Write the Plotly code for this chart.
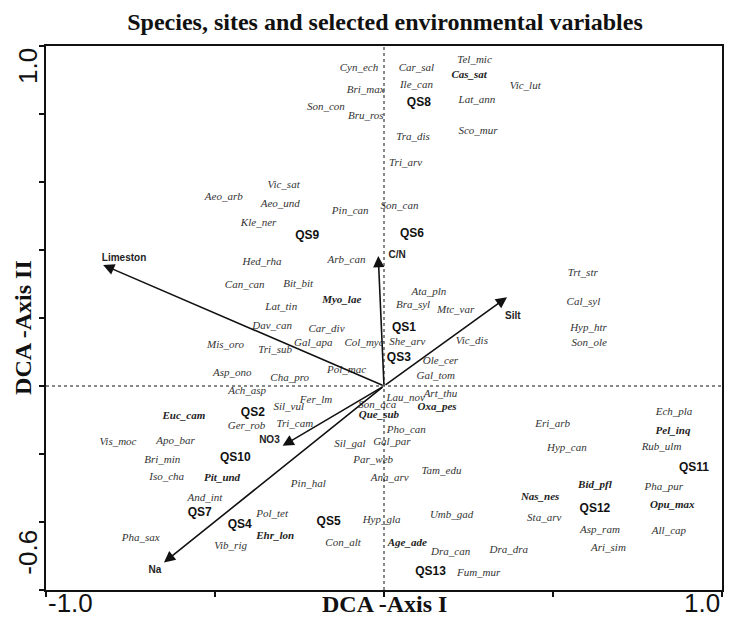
import plotly.graph_objects as go

# ---------------- data (DCA scores) ----------------
species = ["Cyn_ech", "Car_sal", "Tel_mic", "Vic_lut", "Bri_max", "Ile_can", "Son_con",
           "Lat_ann", "Bru_ros", "Tra_dis", "Sco_mur", "Tri_arv", "Son_can", "Pin_can",
           "Vic_sat", "Aeo_arb", "Aeo_und", "Kle_ner", "Hed_rha", "Can_can", "Bit_bit",
           "Lat_tin", "Dav_can", "Mis_oro", "Tri_sub", "Asp_ono", "Cha_pro", "Ach_asp",
           "Arb_can", "Ata_pln", "Bra_syl", "Mtc_var", "Car_div", "Gal_apa", "Col_myc",
           "She_arv", "Vic_dis", "Ole_cer", "Pol_mac", "Gal_tom", "Lau_nov", "Art_thu",
           "Fer_lm", "Son_aca", "Sil_vul", "Tri_cam", "Trt_str", "Cal_syl", "Hyp_htr",
           "Son_ole", "Ger_rob", "Vis_moc", "Apo_bar", "Bri_min", "Iso_cha", "Pin_hal",
           "And_int", "Pol_tet", "Pha_sax", "Vib_rig", "Pho_can", "Sil_gal", "Gal_par",
           "Par_web", "Tam_edu", "Ana_arv", "Hyp_gla", "Umb_gad", "Con_alt", "Dra_can",
           "Dra_dra", "Fum_mur", "Ech_pla", "Eri_arb", "Hyp_can", "Rub_ulm", "Pha_pur",
           "Sta_arv", "Asp_ram", "All_cap", "Ari_sim"]
sp_x = [-0.074, 0.096, 0.268, 0.418, -0.054, 0.096, -0.172,
        0.275, -0.054, 0.086, 0.278, 0.064, 0.046, -0.100,
        -0.297, -0.474, -0.307, -0.371, -0.361, -0.412, -0.254,
        -0.304, -0.331, -0.469, -0.322, -0.449, -0.279, -0.405,
        -0.111, 0.133, 0.086, 0.212, -0.170, -0.209, -0.059,
        0.069, 0.260, 0.167, -0.111, 0.153, 0.064, 0.167,
        -0.201, -0.020, -0.282, -0.264, 0.588, 0.590, 0.605,
        0.607, -0.407, -0.787, -0.617, -0.656, -0.643, -0.224,
        -0.530, -0.331, -0.720, -0.454, 0.066, -0.101, 0.023,
        -0.032, 0.170, 0.017, -0.007, 0.200, -0.121, 0.197,
        0.369, 0.280, 0.858, 0.499, 0.541, 0.821, 0.828,
        0.474, 0.639, 0.843, 0.664]
sp_y = [0.934, 0.936, 0.959, 0.882, 0.870, 0.884, 0.821,
        0.841, 0.792, 0.733, 0.748, 0.655, 0.529, 0.515,
        0.589, 0.554, 0.535, 0.479, 0.364, 0.297, 0.299,
        0.233, 0.177, 0.119, 0.104, 0.037, 0.024, -0.014,
        0.371, 0.277, 0.238, 0.224, 0.167, 0.126, 0.126,
        0.130, 0.132, 0.074, 0.045, 0.029, -0.036, -0.024,
        -0.043, -0.056, -0.062, -0.113, 0.331, 0.246, 0.170,
        0.126, -0.117, -0.164, -0.162, -0.218, -0.269, -0.289,
        -0.330, -0.376, -0.448, -0.470, -0.131, -0.171, -0.164,
        -0.218, -0.250, -0.271, -0.394, -0.379, -0.463, -0.490,
        -0.484, -0.551, -0.076, -0.112, -0.183, -0.179, -0.298,
        -0.389, -0.424, -0.426, -0.476]

species_bold = ["Cas_sat", "Myo_lae", "Oxa_pes", "Que_sub", "Euc_cam", "Pit_und",
                "Ehr_lon", "Age_ade", "Pel_inq", "Bid_pfl", "Nas_nes", "Opu_max"]
spb_x = [0.252, -0.125, 0.157, -0.015, -0.592, -0.479,
         -0.322, 0.069, 0.855, 0.624, 0.462, 0.853]
spb_y = [0.915, 0.251, -0.063, -0.087, -0.088, -0.270,
         -0.443, -0.463, -0.134, -0.291, -0.326, -0.350]

sites = ["QS1", "QS2", "QS3", "QS4", "QS5", "QS6", "QS7",
         "QS8", "QS9", "QS10", "QS11", "QS12", "QS13"]
site_x = [0.059, -0.388, 0.044, -0.427, -0.164, 0.083, -0.545,
          0.103, -0.227, -0.440, 0.917, 0.624, 0.138]
site_y = [0.170, -0.079, 0.083, -0.409, -0.399, 0.446, -0.374,
          0.831, 0.441, -0.213, -0.242, -0.363, -0.546]

env = ["Limeston", "C/N", "Silt", "NO3", "Na"]
env_x = [-0.831, -0.017, 0.364, -0.300, -0.651]      # arrow tips
env_y = [0.356, 0.382, 0.261, -0.176, -0.519]
env_lab_x = [-0.769, 0.039, 0.381, -0.339, -0.678]  # label positions
env_lab_y = [0.376, 0.385, 0.204, -0.161, -0.543]

x_range = [-1.0, 1.0]
y_range = [-0.6, 1.0]
x_ticks = [-1.0, -0.5, 0.0, 0.5, 1.0]
y_ticks = [-0.6, -0.4, -0.2, 0.0, 0.2, 0.4, 0.6, 0.8, 1.0]

# ---------------- figure ----------------
fig = go.Figure()

fig.add_trace(go.Scatter(
    x=sp_x, y=sp_y, text=species, mode="text", textposition="middle center",
    textfont=dict(family="Liberation Serif, Times New Roman, serif", size=11,
                  color="#333333", style="italic"),
    hoverinfo="text", showlegend=False))

fig.add_trace(go.Scatter(
    x=spb_x, y=spb_y, text=species_bold, mode="text", textposition="middle center",
    textfont=dict(family="Liberation Serif, Times New Roman, serif", size=11,
                  color="#222222", style="italic", weight="bold"),
    hoverinfo="text", showlegend=False))

fig.add_trace(go.Scatter(
    x=site_x, y=site_y, text=sites, mode="text", textposition="middle center",
    textfont=dict(family="Liberation Sans, Arial, sans-serif", size=12,
                  color="#111111", weight="bold"),
    hoverinfo="text", showlegend=False))

fig.add_trace(go.Scatter(
    x=env_lab_x, y=env_lab_y, text=env, mode="text", textposition="middle center",
    textfont=dict(family="Liberation Sans, Arial, sans-serif", size=10,
                  color="#222222", weight="bold"),
    hoverinfo="text", showlegend=False))

# environmental arrows from origin
for ex, ey in zip(env_x, env_y):
    fig.add_annotation(x=ex, y=ey, ax=0, ay=0, xref="x", yref="y",
                       axref="x", ayref="y", text="", showarrow=True,
                       arrowhead=2, arrowsize=1.4, arrowwidth=1.6,
                       arrowcolor="#111111")

# dotted zero lines
fig.add_shape(type="line", xref="x", yref="paper", x0=0, x1=0, y0=0, y1=1,
              line=dict(color="#111111", width=1, dash="dot"))
fig.add_shape(type="line", xref="paper", yref="y", x0=0, x1=1, y0=0, y1=0,
              line=dict(color="#111111", width=1, dash="dot"))

tick_font = dict(family="Liberation Sans, Arial, sans-serif", size=26, color="#111111")
title_font = dict(family="Liberation Serif, Times New Roman, serif", size=24,
                  color="#111111", weight="bold")

# end tick labels
fig.add_annotation(text="-1.0", xref="paper", yref="paper", x=0, y=-0.024,
                   xanchor="left", yanchor="middle", showarrow=False, font=tick_font)
fig.add_annotation(text="1.0", xref="paper", yref="paper", x=1, y=-0.024,
                   xanchor="right", yanchor="middle", showarrow=False, font=tick_font)
fig.add_annotation(text="1.0", xref="paper", yref="paper", x=-0.027, y=0.963,
                   xanchor="center", yanchor="middle", textangle=-90,
                   showarrow=False, font=tick_font)
fig.add_annotation(text="-0.6", xref="paper", yref="paper", x=-0.027, y=0.070,
                   xanchor="center", yanchor="middle", textangle=-90,
                   showarrow=False, font=tick_font)

# axis titles
fig.add_annotation(text="DCA -Axis I", xref="paper", yref="paper", x=0.5, y=-0.026,
                   xanchor="center", yanchor="middle", showarrow=False, font=title_font)
fig.add_annotation(text="DCA -Axis II", xref="paper", yref="paper", x=-0.033, y=0.483,
                   xanchor="center", yanchor="middle", textangle=-90,
                   showarrow=False, font=title_font)

# page has an 8px body margin: figure is sized to the visible area
W, H = 723, 620
fig.update_layout(
    width=W, height=H,
    margin=dict(l=38, r=7, t=38, b=38),
    paper_bgcolor="white", plot_bgcolor="white",
    title=dict(text="Species, sites and selected environmental variables",
               x=(385 - 8) / W, xanchor="center", y=1 - 14 / H, yanchor="middle",
               font=dict(family="Liberation Serif, Times New Roman, serif", size=24,
                         color="#111111", weight="bold")),
    xaxis=dict(range=x_range, tickvals=x_ticks, ticktext=[""] * len(x_ticks),
               ticks="outside", ticklen=5, tickwidth=1.5, tickcolor="#111111",
               showgrid=False, zeroline=False, showline=True, linecolor="#111111",
               linewidth=1.5, mirror=True, fixedrange=True),
    yaxis=dict(range=y_range, tickvals=y_ticks, ticktext=[""] * len(y_ticks),
               ticks="outside", ticklen=5, tickwidth=1.5, tickcolor="#111111",
               showgrid=False, zeroline=False, showline=True, linecolor="#111111",
               linewidth=1.5, mirror=True, fixedrange=True),
)

fig.write_html("out.html")
